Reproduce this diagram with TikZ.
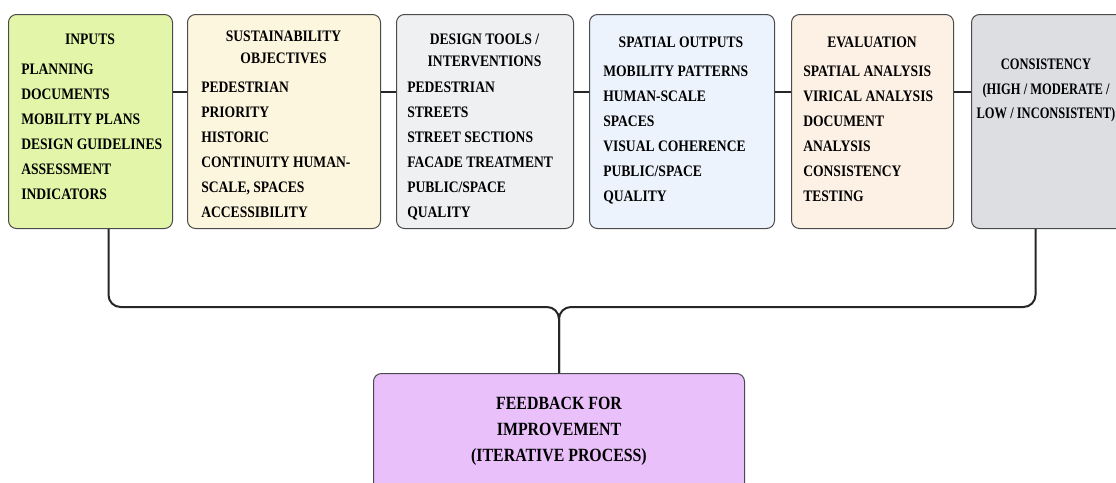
\documentclass[tikz,border=0pt]{standalone}
\usepackage{fontspec}
\setmainfont{Liberation Serif}[FakeStretch=0.85]
\newfontfamily\narrowserif{Liberation Serif}[FakeStretch=0.78]
\usetikzlibrary{positioning}
\definecolor{inputgreen}{RGB}{226,245,168}
\definecolor{goalcream}{RGB}{253,246,222}
\definecolor{toolgray}{RGB}{238,240,242}
\definecolor{spaceblue}{RGB}{236,243,253}
\definecolor{evalpeach}{RGB}{253,240,228}
\definecolor{consgray}{RGB}{221,222,226}
\definecolor{feedviolet}{RGB}{233,192,250}
\definecolor{edgegray}{RGB}{75,75,75}

\begin{document}
\begin{tikzpicture}[x=0.75pt, y=-0.75pt,
    stage/.style={draw=edgegray, line width=0.75pt, rounded corners=6pt, anchor=north west,
      minimum height=214*0.75pt, inner sep=0pt},
    head/.style={anchor=north, align=center, inner sep=0pt, font=\bfseries\fontsize{12}{16.5}\selectfont},
    items/.style={anchor=north west, align=left, inner sep=0pt, font=\bfseries\fontsize{12}{18.75}\selectfont},
    link/.style={line width=1.5pt, black!85}]
  \useasboundingbox (0,0) rectangle (1116,482);

  % stage boxes
  \node[stage, fill=inputgreen, minimum width=164*0.75pt] (inputs) at (8,14) {};
  \node[stage, fill=goalcream, minimum width=193*0.75pt] (objectives) at (187,14) {};
  \node[stage, fill=toolgray, minimum width=177*0.75pt] (tools) at (396,14) {};
  \node[stage, fill=spaceblue, minimum width=185*0.75pt] (outputs) at (589,14) {};
  \node[stage, fill=evalpeach, minimum width=162*0.75pt] (evaluation) at (791,14) {};
  \node[stage, fill=consgray, minimum width=154*0.75pt] (consistency) at (971,14) {};
  \node[stage, fill=feedviolet, minimum width=371*0.75pt, minimum height=125*0.75pt] (feedback) at (373,373) {};

  % texts
  \node[head] (inputs-h) at (90,33.7) {INPUTS};
  \node[items] (inputs-l) at (21,63.7) {PLANNING\\DOCUMENTS\\MOBILITY PLANS\\DESIGN GUIDELINES\\ASSESSMENT\\INDICATORS};

  \node[head] (objectives-h) at (283.5,30.7) {SUSTAINABILITY\\OBJECTIVES};
  \node[items] (objectives-l) at (201,81.7) {PEDESTRIAN\\PRIORITY\\HISTORIC\\CONTINUITY HUMAN-\\SCALE, SPACES\\ACCESSIBILITY};

  \node[head] (tools-h) at (484.5,33.7) {DESIGN TOOLS /\\INTERVENTIONS};
  \node[items] (tools-l) at (407,81.7) {PEDESTRIAN\\STREETS\\STREET SECTIONS\\FACADE TREATMENT\\PUBLIC/SPACE\\QUALITY};

  \node[head] (outputs-h) at (681,36.7) {SPATIAL OUTPUTS};
  \node[items] (outputs-l) at (603,65.7) {MOBILITY PATTERNS\\HUMAN-SCALE\\SPACES\\VISUAL COHERENCE\\PUBLIC/SPACE\\QUALITY};

  \node[head] (evaluation-h) at (872,36.7) {EVALUATION};
  \node[items] (evaluation-l) at (803,65.7) {SPATIAL ANALYSIS\\VIRICAL ANALYSIS\\DOCUMENT\\ANALYSIS\\CONSISTENCY\\TESTING};

  \node[head, font=\narrowserif\bfseries\fontsize{12}{18.4}\selectfont] (consistency-h) at (1046,58.7)
    {CONSISTENCY\\(HIGH / MODERATE /\\LOW / INCONSISTENT)};

  \node[head, font=\bfseries\fontsize{14}{19.5}\selectfont] (feedback-h) at (559,397)
    {FEEDBACK FOR\\IMPROVEMENT\\(ITERATIVE PROCESS)};

  % links between stages
  \coordinate (rail) at (0,92);
  \foreach \a/\b in {inputs/objectives, objectives/tools, tools/outputs, outputs/evaluation, evaluation/consistency}
    \draw[link] (\a.east |- rail) -- (\b.west |- rail);

  % feedback loop
  \coordinate (bus) at (559,307);
  \draw[link] ([xshift=13.5pt]inputs.south) [rounded corners=9pt] |- (bus) [rounded corners=2pt] -- (feedback.north);
  \draw[link] ([xshift=-9.75pt]consistency.south) [rounded corners=9pt] |- (bus) [rounded corners=2pt] -- (feedback.north);
\end{tikzpicture}
\end{document}
